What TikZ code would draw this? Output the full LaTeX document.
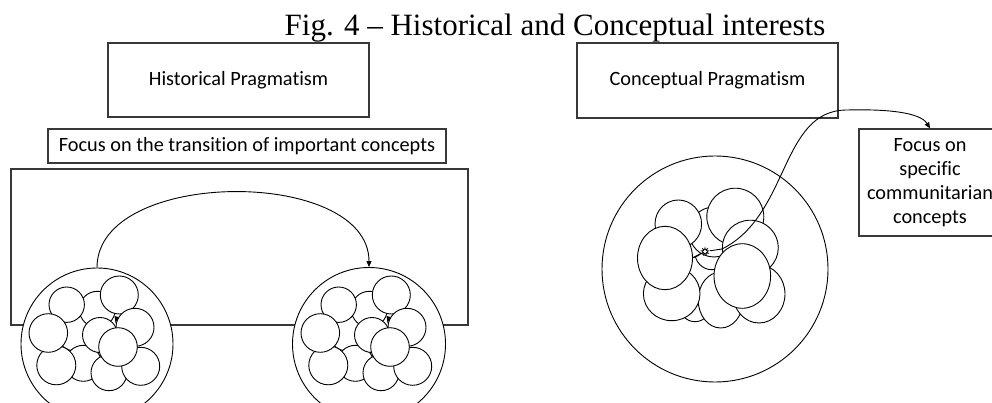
\documentclass[tikz,border=0pt]{standalone}
\usepackage{fontspec}
\setmainfont{Carlito}[Ligatures=NoCommon]
\newfontfamily\titlefont{Liberation Serif}
\usetikzlibrary{arrows.meta,shapes.geometric}
\definecolor{boxgray}{HTML}{383838}

\begin{document}
\begin{tikzpicture}[x=1pt,y=-1pt,
  box/.style={draw=boxgray, line width=1.2pt, inner sep=0pt, align=center,
              font=\fontsize{20.3}{24}\selectfont},
  frame/.style={draw=boxgray, line width=1.2pt},
  ring/.style={circle, draw=black, fill=white, line width=0.9pt, inner sep=0pt},
  blob/.style={draw=black, fill=white, line width=0.9pt},
  conn/.style={draw=black, line width=0.9pt},
  tip/.style={-{Triangle[length=6pt,width=5pt]}},
  cluster/.pic={
    % overlapping concepts, drawn back to front
    \foreach \dx/\dy/\r in {-22/-11/18, 0.3/-34.7/18, -30.3/-39.3/17.7,
        -13.7/19.3/18, 3/-9/17.5, 12/28.7/18, 43.7/22.3/19, -40.7/21.3/19.5,
        -48.7/-11/19.3, 22.3/-49/19, 38/-16.7/19, 21/3/19.3}
      \draw[blob] (\dx,\dy) circle[radius=\r];
    \fill[black] (17.5,-28) -- (21.5,-27) -- (18.5,-21) -- cycle;
  }]
\useasboundingbox (0,0) rectangle (992,403);
\clip (0,0) rectangle (992,403);

% title
\node[font=\titlefont\fontsize{31}{36}\selectfont, anchor=base, inner sep=0pt]
  (title) at (555,36) {Fig. 4 – Historical and Conceptual interests};

% ---- historical side ----
\node[box, minimum width=261pt, minimum height=74pt] (hist) at (238.5,80)
  {Historical Pragmatism};
\node[box, minimum width=398pt, minimum height=34pt] (focusL) at (247,146)
  {Focus on the transition of important concepts};
\draw[frame] (11,169) rectangle (468,325);

\node[ring, minimum size=152pt] (L) at (97,344) {};
\node[ring, minimum size=153pt] (R) at (369,344) {};
\pic at (L) {cluster};
\pic at (R) {cluster};

\draw[conn, tip] (L.north) .. controls +(0,-100) and +(0,-100) .. (R.north);

% ---- conceptual side ----
\node[box, minimum width=261pt, minimum height=75pt] (conc) at (707.5,80.5)
  {Conceptual Pragmatism};
\node[box, minimum width=142pt, minimum height=107pt] (focusR) at (930,182.5)
  {Focus on\\specific\\communitarian\\concepts};

\node[ring, fill=none, minimum size=226pt] (C) at (715,269) {};

\begin{scope}
  \draw[blob] (711.7,251.7) ellipse[x radius=17, y radius=18];
  \draw[blob] (690,243) circle[radius=15];
  \draw[blob] (714,232) circle[radius=25];
  \draw[blob] (678.3,224) ellipse[x radius=23.3, y radius=24];
  \draw[blob] (695,306.7) circle[radius=15];
  \draw[blob] (720.7,300) ellipse[x radius=22.5, y radius=28];
  \draw[blob] (671.7,293.7) ellipse[x radius=28.3, y radius=27];
  \draw[blob] (759,294) ellipse[x radius=26, y radius=29];
  \draw[blob] (665,258) ellipse[x radius=27.5, y radius=31.7];
  \draw[blob] (735.3,216.7) ellipse[x radius=28.5, y radius=28.5];
  \draw[blob] (750.3,247.7) ellipse[x radius=28, y radius=27.5];
  \draw[blob] (742.3,276) ellipse[x radius=28.3, y radius=32.3];
\end{scope}

\node[star, star points=9, star point ratio=2.2, minimum size=10pt,
      inner sep=0pt, fill=black] (S) at (705,251.5) {};
\fill[white] (S) circle[radius=1.8];
\coordinate (k0) at (693,257.5);
\coordinate (k1) at (722,249);
\coordinate (k2) at (847,110);
\draw[conn] (k0) -- (S);
\draw[conn, tip] (S) -- (k1) .. controls (790,215) and (780,110) .. (k2)
  .. controls (885,109) and (920,112) .. (focusR.north);
\end{tikzpicture}
\end{document}
